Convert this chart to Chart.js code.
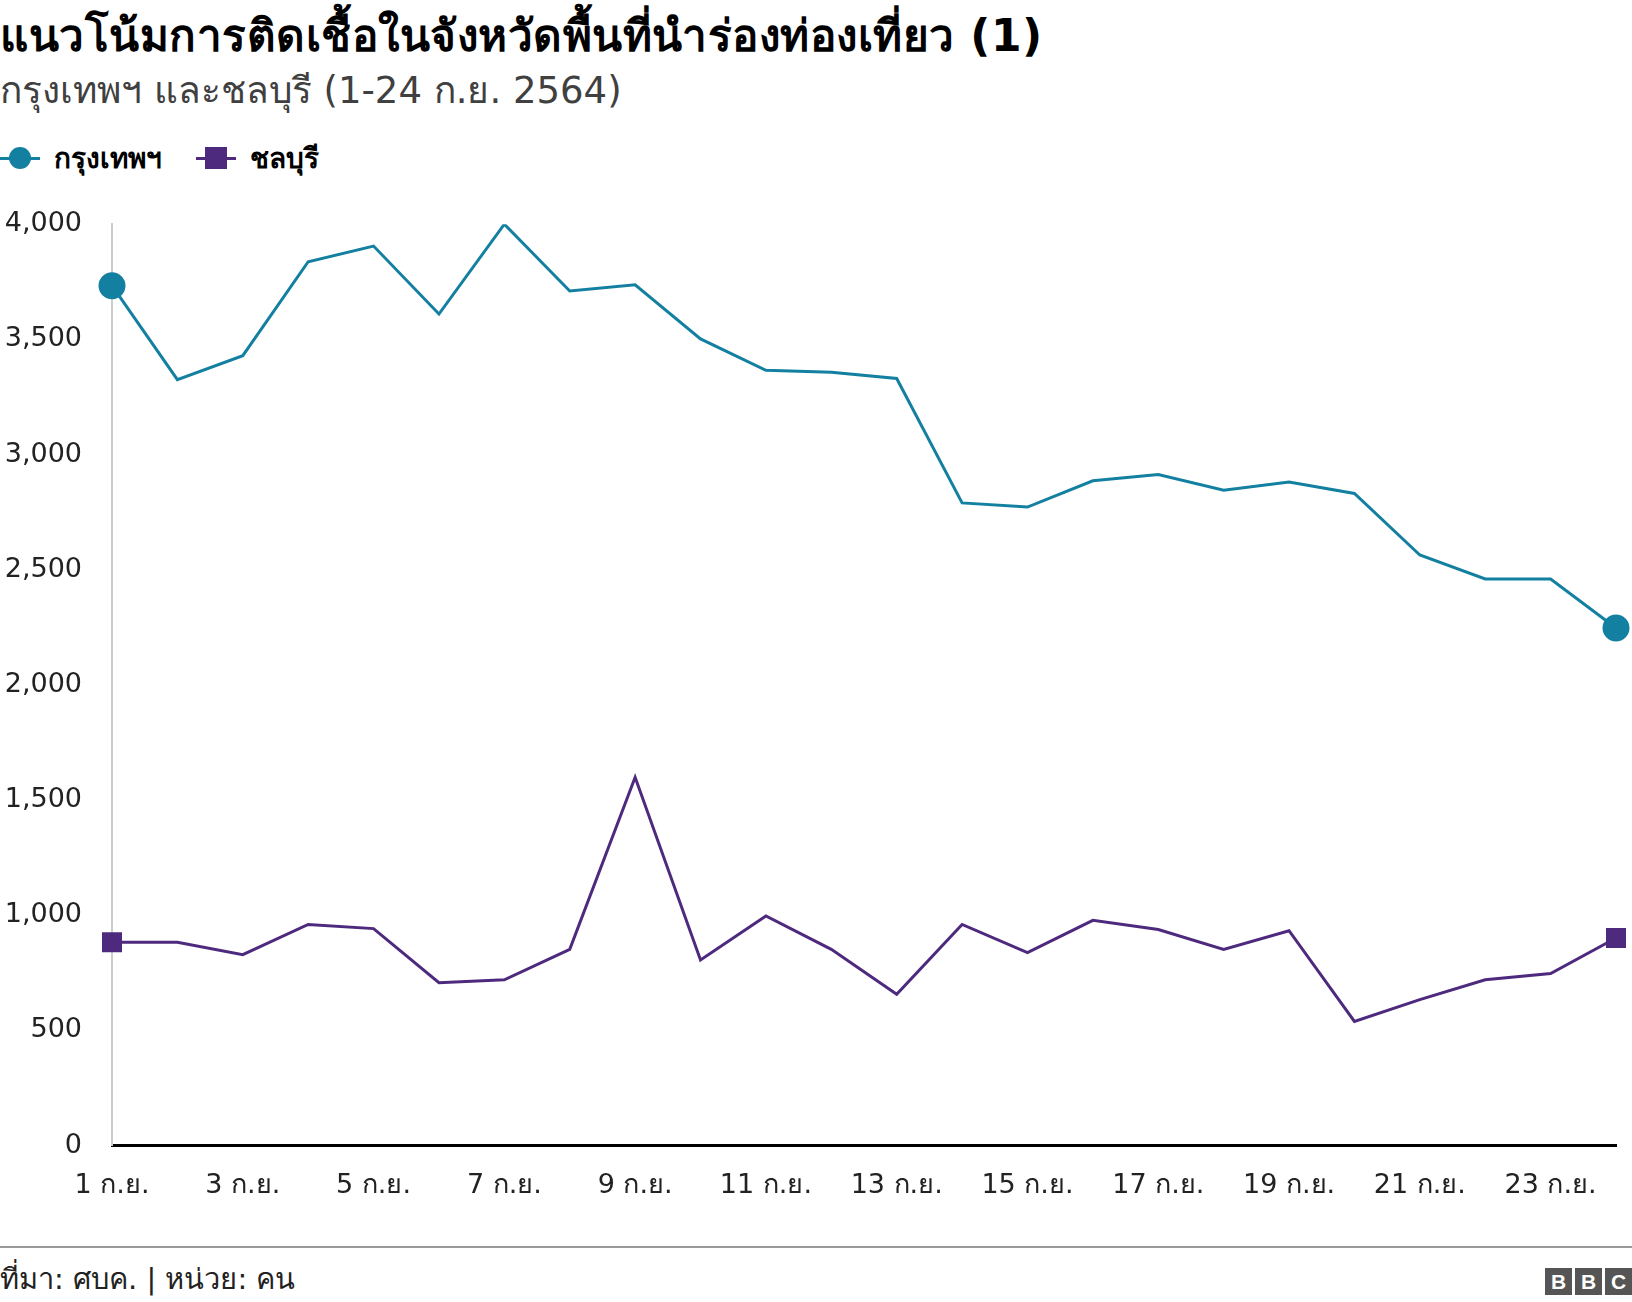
<!DOCTYPE html>
<html><head><meta charset="utf-8">
<script src="https://cdn.jsdelivr.net/npm/chart.js@4"></script>
<style>
body{margin:0;width:1632px;height:1302px;background:#fff;font-family:"DejaVu Sans","Noto Sans",sans-serif;position:relative;overflow:hidden}
#title{position:absolute;left:0;top:0px;font-size:44px;font-weight:bold;color:#000;letter-spacing:0.5px}
#sub{position:absolute;left:0;top:60px;font-size:37px;color:#404040}
#legend{position:absolute;left:0;top:136px;font-size:28px;font-weight:bold;display:flex;align-items:center}
.lg{display:flex;align-items:center;margin-right:34px}
.sw{position:relative;width:40px;height:28px;margin-right:14px}
.sw i{position:absolute;left:0;right:0;top:13px;height:3px}
.sw b{position:absolute;left:9px;top:3px;width:22px;height:22px}
#wrap{position:absolute;left:0;top:186px;width:1632px;height:1032px}
#foot{position:absolute;left:0;top:1246px;width:1632px;border-top:2px solid #999}
#src{position:absolute;left:0;top:1256px;font-size:29px;color:#222}
#bbc{position:absolute;right:0;top:1268px;display:flex;gap:3px}
#bbc span{background:#555;color:#fff;font:bold 21px "Liberation Sans";width:27px;height:27px;text-align:center;line-height:27px}
</style></head><body>
<div id="title">แนวโน้มการติดเชื้อในจังหวัดพื้นที่นำร่องท่องเที่ยว (1)</div>
<div id="sub">กรุงเทพฯ และชลบุรี (1-24 ก.ย. 2564)</div>
<div id="legend">
<div class="lg"><div class="sw"><i style="background:#1380A1"></i><b style="background:#1380A1;border-radius:50%"></b></div>กรุงเทพฯ</div>
<div class="lg"><div class="sw"><i style="background:#4E2A7E"></i><b style="background:#4E2A7E"></b></div>ชลบุรี</div>
</div>
<div id="wrap"><canvas id="c"></canvas></div>
<div id="foot"></div>
<div id="src">ที่มา: ศบค. | หน่วย: คน</div>
<div id="bbc"><span>B</span><span>B</span><span>C</span></div>
<script>
const days = Array.from({length:24},(_, i)=>(i+1)+" ก.ย.");
const bangkok = [3733,3325,3429,3837,3905,3610,4000,3710,3737,3502,3366,3357,3330,2790,2772,2886,2913,2845,2881,2831,2564,2460,2460,2247];
const chonburi = [883,883,829,960,942,707,720,852,1599,806,997,852,657,960,838,978,938,852,933,539,634,720,747,901];
const yTicks = [0,500,1000,1500,2000,2500,3000,3500,4000];

const edgeOnly = n => ctx => (ctx.dataIndex===0||ctx.dataIndex===n-1)?12:0;
new Chart(document.getElementById("c"), {
  type: "line",
  data: {
    labels: days,
    datasets: [
      {label:"กรุงเทพฯ", data:bangkok, borderColor:"#1380A1", backgroundColor:"#1380A1", borderWidth:3,
       pointRadius:edgeOnly(24), pointStyle:"circle", tension:0},
      {label:"ชลบุรี", data:chonburi, borderColor:"#4E2A7E", backgroundColor:"#4E2A7E", borderWidth:3,
       pointRadius:edgeOnly(24), pointStyle:"rect", tension:0}
    ]
  },
  options: {
    animation:false, responsive:true, maintainAspectRatio:false,
    layout:{padding:{top:0,right:14,left:0}},
    plugins:{legend:{display:false}, tooltip:{enabled:false}},
    scales:{
      x:{
        grid:{display:false},
        border:{display:true,color:"#000",width:3},
        ticks:{color:"#222",font:{size:27,family:"DejaVu Sans"},maxRotation:0,autoSkip:false,padding:16,
          callback:function(v,i){return i%2===0?days[i]:"";}}
      },
      y:{
        min:0,max:4000,
        afterBuildTicks:function(a){a.ticks=yTicks.map(v=>({value:v}));},
        afterFit:function(a){a.width=112;},
        grid:{display:false},
        border:{display:true,color:"#ccc",width:2},
        ticks:{color:"#222",font:{size:27,family:"DejaVu Sans"},padding:22,
          callback:v=>v.toLocaleString("en-US")}
      }
    }
  }
});
</script>
</body></html>
